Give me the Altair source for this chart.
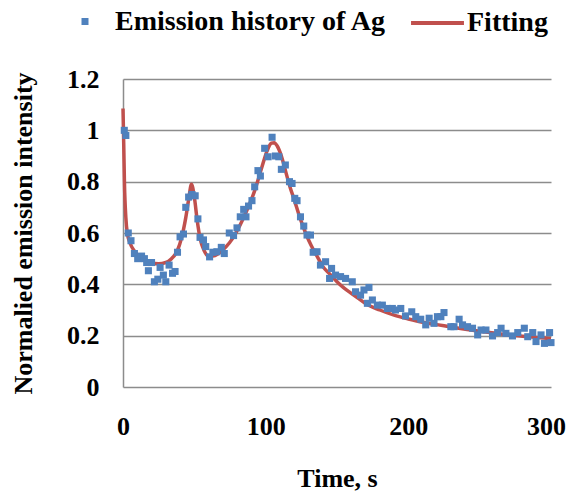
import altair as alt
import pandas as pd

# Emission history of Ag (measured points)
time_pts = [0.9, 2, 3.7, 5.6, 8, 10.3, 13, 15, 16.6, 17.8, 20, 22, 24.4, 26, 28.3, 30, 32.3,
            34.7, 36.5, 38.2, 40, 42.4, 44, 46, 48.3, 50.6, 52.5, 54, 56.4, 58, 60.7, 63,
            65.8, 68.9, 71, 74.5, 77.5, 79.9, 82.2, 84.6, 86.2, 88, 90.4, 92.3, 94.6, 96.3,
            99.3, 101.7, 104.5, 106.8, 109.2, 111, 113.8, 116.7, 118.5, 120.4, 122, 124.4,
            126.7, 129, 131.4, 133.3, 136, 138.4, 142, 144.8, 146.2, 149, 152.5, 156, 160.7,
            163, 166.5, 168.9, 171.3, 172.4, 174.8, 178.3, 181.8, 185.3, 188.8, 191, 194.7,
            198, 202.4, 205.2, 208.7, 212.2, 214.6, 218, 220.4, 222.8, 225, 229.8, 232,
            235.6, 238, 241.5, 245, 248.6, 251, 254.4, 259, 262.6, 265, 268.4, 273, 276.7,
            281.3, 283.7, 287.2, 289.5, 293, 295.4, 299, 300]
emission = [1.0, 0.98, 0.60, 0.57, 0.52, 0.50, 0.51, 0.50, 0.485, 0.453, 0.485, 0.41, 0.42,
            0.466, 0.436, 0.41, 0.475, 0.443, 0.45, 0.525, 0.585, 0.596, 0.70, 0.74, 0.75,
            0.745, 0.655, 0.583, 0.573, 0.547, 0.507, 0.525, 0.527, 0.544, 0.52, 0.60, 0.59,
            0.62, 0.663, 0.692, 0.663, 0.705, 0.726, 0.78, 0.843, 0.822, 0.93, 0.897, 0.973,
            0.90, 0.897, 0.848, 0.865, 0.80, 0.793, 0.735, 0.726, 0.663, 0.627, 0.592, 0.592,
            0.525, 0.527, 0.475, 0.488, 0.423, 0.462, 0.436, 0.43, 0.423, 0.41, 0.371, 0.358,
            0.378, 0.326, 0.388, 0.339, 0.319, 0.319, 0.306, 0.306, 0.30, 0.306, 0.277, 0.293,
            0.274, 0.264, 0.242, 0.268, 0.248, 0.274, 0.274, 0.29, 0.235, 0.235, 0.264, 0.242,
            0.235, 0.229, 0.203, 0.222, 0.222, 0.199, 0.212, 0.229, 0.209, 0.199, 0.212, 0.229,
            0.196, 0.212, 0.177, 0.203, 0.17, 0.212, 0.173]

# Fitting curve
fit_t = [0, 0.5, 1, 2, 3, 5, 8, 12, 16, 20, 25, 30, 34, 38, 41, 44, 46, 48, 50, 52, 54, 57,
         60, 63, 67, 72, 77, 82, 87, 92, 97, 101, 104, 106, 108, 111, 114, 117, 120, 124, 128,
         132, 136, 140, 145, 150, 155, 160, 165, 170, 180, 190, 200, 210, 220, 230, 240, 250,
         260, 270, 280, 290, 300]
fit_v = [1.085, 0.95, 0.8, 0.66, 0.6, 0.56, 0.53, 0.505, 0.49, 0.482, 0.48, 0.485, 0.5, 0.53,
         0.58, 0.66, 0.73, 0.79, 0.74, 0.65, 0.58, 0.53, 0.51, 0.51, 0.52, 0.545, 0.58, 0.63,
         0.69, 0.76, 0.85, 0.92, 0.95, 0.952, 0.94, 0.9, 0.84, 0.78, 0.73, 0.66, 0.6, 0.55,
         0.51, 0.47, 0.44, 0.41, 0.385, 0.365, 0.345, 0.325, 0.30, 0.28, 0.265, 0.252, 0.243,
         0.234, 0.225, 0.217, 0.21, 0.203, 0.198, 0.193, 0.188]

x_ticks = [0, 100, 200, 300]
y_ticks = [0, 0.2, 0.4, 0.6, 0.8, 1.0, 1.2]

pts = pd.DataFrame({"t": time_pts, "v": emission, "series": "Emission history of Ag"})
fit = pd.DataFrame({"t": fit_t, "v": fit_v, "series": "Fitting"})

FONT = "Liberation Serif"

x_enc = alt.X("t:Q", scale=alt.Scale(domain=[0, 300], nice=False),
              axis=alt.Axis(values=x_ticks, title="Time, s", grid=False, ticks=False,
                            domain=False, labelFlush=False, labelOverlap=False,
                            labelOffset={"condition": {"test": "datum.value >= 300", "value": -5},
                                         "value": 0},
                            labelPadding=26, titlePadding=26))
y_enc = alt.Y("v:Q", scale=alt.Scale(domain=[0, 1.2], nice=False),
              axis=alt.Axis(values=y_ticks, format="~g", title="Normalied emission intensity",
                            ticks=False, labelFlush=False, labelOverlap=False,
                            labelPadding=24, titlePadding=30))

line = alt.Chart(fit).mark_line(strokeWidth=3.5, interpolate="monotone").encode(
    x=x_enc, y=y_enc,
    stroke=alt.Stroke("series:N",
                      scale=alt.Scale(domain=["Fitting"], range=["#C0504D"]),
                      legend=alt.Legend(title=None, orient="none", legendX=286, legendY=-84.5,
                                        symbolType="stroke", symbolSize=2800,
                                        symbolStrokeWidth=4, labelOffset=1, labelLimit=400,
                                        labelFont=FONT, labelFontWeight="bold",
                                        labelFontSize=28, labelColor="black", padding=0)),
)

points = alt.Chart(pts).mark_square(size=50, opacity=1).encode(
    x=x_enc, y=y_enc,
    fill=alt.Fill("series:N",
                  scale=alt.Scale(domain=["Emission history of Ag"], range=["#4F81BD"]),
                  legend=alt.Legend(title=None, orient="none", legendX=-52, legendY=-71.5,
                                    symbolType="square", symbolSize=49, labelOffset=16,
                                    labelLimit=400,
                                    labelFont=FONT, labelFontWeight="bold",
                                    labelFontSize=28, labelColor="black", padding=0)),
)

chart = alt.layer(line, points).properties(
    width=428, height=308,
    autosize=alt.AutoSizeParams(type="none"),
    padding={"left": 115, "top": 71, "right": 15, "bottom": 106},
).configure_axis(
    labelFont=FONT, labelFontWeight="bold", labelFontSize=26, labelColor="black",
    titleFont=FONT, titleFontWeight="bold", titleFontSize=26, titleColor="black",
    gridColor="#8C8C8C", gridWidth=1.5, domainColor="#8C8C8C", domainWidth=1.5,
).configure_view(stroke=None)

chart.save("out.html", embed_options={"renderer": "svg", "actions": False})
